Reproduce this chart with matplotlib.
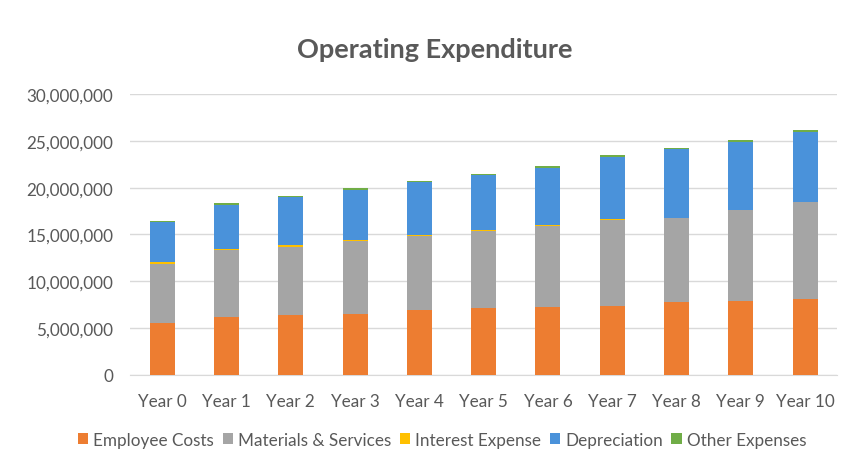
import matplotlib
matplotlib.use("Agg")
import matplotlib.pyplot as plt
import matplotlib.ticker as mticker
import numpy as np

plt.rcParams['font.family'] = ['Lato', 'DejaVu Sans']

years = ["Year %d" % i for i in range(11)]

# values in dollars
employee = np.array([5.50, 6.20, 6.35, 6.50, 6.95, 7.10, 7.20, 7.40, 7.75, 7.90, 8.10]) * 1e6
materials = np.array([6.30, 7.10, 7.35, 7.80, 7.85, 8.30, 8.70, 9.20, 9.00, 9.70, 10.35]) * 1e6
interest = np.array([0.30, 0.20, 0.20, 0.15, 0.12, 0.10, 0.10, 0.08, 0.06, 0.06, 0.05]) * 1e6
depreciation = np.array([4.20, 4.70, 5.10, 5.35, 5.68, 5.85, 6.10, 6.62, 7.29, 7.24, 7.50]) * 1e6
other = np.array([0.15, 0.12, 0.12, 0.15, 0.15, 0.15, 0.17, 0.20, 0.15, 0.17, 0.20]) * 1e6

series = [
    ("Employee Costs", employee, "#ED7D31"),
    ("Materials & Services", materials, "#A5A5A5"),
    ("Interest Expense", interest, "#FFC000"),
    ("Depreciation", depreciation, "#4A92DA"),
    ("Other Expenses", other, "#70AD47"),
]

txt = "#595959"
fig = plt.figure(figsize=(8.5, 4.64), dpi=100)
ax = fig.add_axes([0.153, 0.19, 0.832, 0.605])

x = np.arange(len(years))
bottom = np.zeros(len(years))
for name, vals, col in series:
    ax.bar(x, vals, 0.39, bottom=bottom, color=col, label=name, zorder=3)
    bottom += vals

ax.set_xlim(-0.5, len(years) - 0.5)
ax.set_ylim(0, 30e6)
ax.set_yticks(np.arange(0, 30e6 + 1, 5e6))
ax.yaxis.set_major_formatter(mticker.FuncFormatter(lambda v, p: "{:,.0f}".format(v)))
ax.set_xticks(x)
ax.set_xticklabels(years)
ax.grid(axis="y", color="#D9D9D9", linewidth=1, zorder=0)
for s in ["top", "right", "left"]:
    ax.spines[s].set_visible(False)
ax.spines["bottom"].set_color("#D9D9D9")
ax.tick_params(axis="both", length=0, labelsize=12.3, labelcolor=txt)
ax.tick_params(axis="y", pad=12)
ax.tick_params(axis="x", pad=13)

fig.text(0.511, 0.892, "Operating Expenditure", ha="center", va="center",
         fontsize=19.5, fontweight="bold", color=txt)

fig.legend(loc="center", bbox_to_anchor=(0.52, 0.05), ncol=5, frameon=False,
           fontsize=12.3, labelcolor=txt, handlelength=0.6, handleheight=0.6,
           handletextpad=0.3, columnspacing=0.5)

fig.savefig("out.png", dpi=100)
